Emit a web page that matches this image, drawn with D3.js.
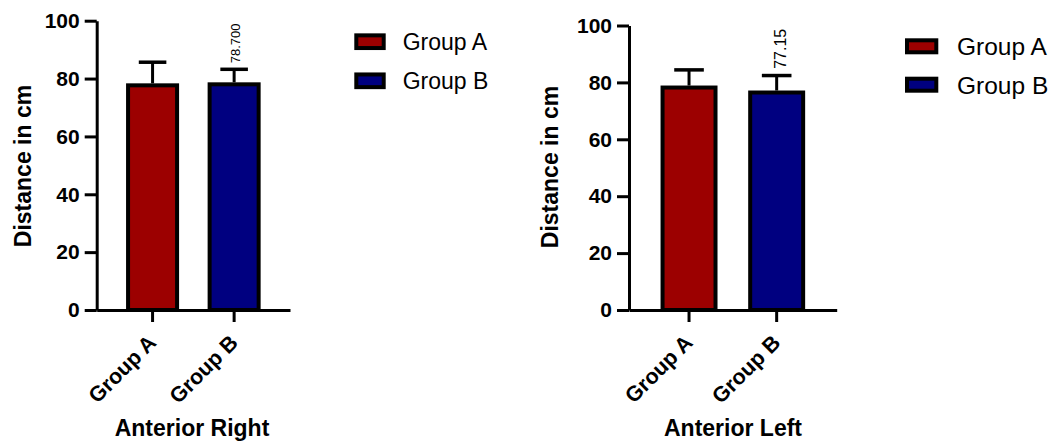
<!DOCTYPE html>
<html>
<head>
<meta charset="utf-8">
<script src="https://cdn.jsdelivr.net/npm/d3@7"></script>
<style>
  html, body { margin: 0; padding: 0; background: #fff; }
  svg { display: block; }
  text { font-family: Arial, "Liberation Sans", sans-serif; fill: #000; }
</style>
</head>
<body>
<svg id="chart" width="1054" height="443"></svg>
<script>
// Groups and summary statistics (mean ± SD) for each measurement
const groups = ["Group A", "Group B"];
const groupColors = ["#9c0000", "#000080"];

const rightMeans = [78.35, 78.7];
const rightSD = [7.3, 4.5];
const rightValueLabels = [null, "78.700"];

const leftMeans = [78.9, 77.15];
const leftSD = [5.5, 5.26];
const leftValueLabels = [null, "77.15"];

const yTicks = [0, 20, 40, 60, 80, 100];

const svg = d3.select("#chart");

function drawPanel(cfg) {
  const g = svg.append("g");

  const x = d3.scaleBand()
    .domain(groups)
    .range(cfg.xRange)
    .paddingInner(0.35)
    .paddingOuter(0.36);

  const y = d3.scaleLinear().domain([0, 100]).range(cfg.yRange);

  const sw = 4; // bar outline width, drawn inside the bar
  const data = groups.map((name, i) => ({
    name, mean: cfg.means[i], sd: cfg.sd[i], color: groupColors[i], label: cfg.labels[i]
  }));

  // error bars (upper only)
  const eb = g.append("g");
  data.forEach(d => {
    const cx = x(d.name) + x.bandwidth() / 2;
    const capW = x.bandwidth() * 0.52;
    eb.append("line")
      .attr("x1", cx).attr("x2", cx)
      .attr("y1", y(d.mean)).attr("y2", y(d.mean + d.sd))
      .attr("stroke", "#000").attr("stroke-width", 3);
    eb.append("line")
      .attr("x1", cx - capW / 2).attr("x2", cx + capW / 2)
      .attr("y1", y(d.mean + d.sd)).attr("y2", y(d.mean + d.sd))
      .attr("stroke", "#000").attr("stroke-width", 3.5);
  });

  // bars
  g.append("g").selectAll("rect")
    .data(data)
    .join("rect")
    .attr("x", d => x(d.name) + sw / 2)
    .attr("width", x.bandwidth() - sw)
    .attr("y", d => y(d.mean) + sw / 2)
    .attr("height", d => y(0) - y(d.mean) - sw / 2)
    .attr("fill", d => d.color)
    .attr("stroke", "#000")
    .attr("stroke-width", sw);

  // value labels above error bars
  g.append("g").selectAll("text")
    .data(data.filter(d => d.label))
    .join("text")
    .attr("transform", d => {
      const cx = x(d.name) + x.bandwidth() / 2 + cfg.labelDx;
      const ty = y(d.mean + d.sd) - cfg.labelGap;
      return `translate(${cx},${ty}) rotate(-90)`;
    })
    .attr("font-size", cfg.labelSize)
    .text(d => d.label);

  // y axis
  const yAxis = g.append("g")
    .attr("transform", `translate(${cfg.xRange[0]},0)`)
    .call(d3.axisLeft(y).tickValues(yTicks).tickSize(12).tickSizeOuter(0).tickPadding(5));
  yAxis.selectAll("path, line").attr("stroke", "#000").attr("stroke-width", 3);
  yAxis.selectAll("text")
    .attr("font-size", 21).attr("font-weight", "bold")
    .attr("font-family", "Arial, 'Liberation Sans', sans-serif")
    .attr("fill", "#000");

  // x axis
  const xAxis = g.append("g")
    .attr("transform", `translate(0,${y(0)})`)
    .call(d3.axisBottom(x).tickSize(12).tickSizeOuter(0).tickPadding(0));
  xAxis.selectAll("path, line").attr("stroke", "#000").attr("stroke-width", 3);
  xAxis.selectAll("text")
    .attr("font-size", 21.5).attr("font-weight", "bold")
    .attr("font-family", "Arial, 'Liberation Sans', sans-serif")
    .attr("fill", "#000")
    .attr("text-anchor", "end")
    .attr("dy", null)
    .attr("y", 0)
    .attr("transform", "translate(5,34) rotate(-45)");

  // axis titles
  g.append("text")
    .attr("transform", `translate(${cfg.yTitleX},${cfg.yTitleY}) rotate(-90)`)
    .attr("text-anchor", "middle")
    .attr("font-size", 23).attr("font-weight", "bold")
    .text("Distance in cm");

  g.append("text")
    .attr("x", cfg.xTitleX).attr("y", 436)
    .attr("text-anchor", "middle")
    .attr("font-size", 23).attr("font-weight", "bold")
    .text(cfg.title);

  // legend
  const lg = g.append("g");
  groups.forEach((name, i) => {
    const cy = cfg.legendY[i];
    lg.append("rect")
      .attr("x", cfg.legendX + 2).attr("y", cy - cfg.swatchH / 2 + 2)
      .attr("width", cfg.swatchW - 4).attr("height", cfg.swatchH - 4)
      .attr("fill", groupColors[i])
      .attr("stroke", "#000").attr("stroke-width", 4);
    lg.append("text")
      .attr("x", cfg.legendTextX).attr("y", cy + cfg.legendSize * 0.36)
      .attr("font-size", cfg.legendSize)
      .text(name);
  });
}

drawPanel({
  xRange: [96.7, 290], yRange: [310, 20.7],
  means: rightMeans, sd: rightSD, labels: rightValueLabels,
  labelDx: 6, labelGap: 6, labelSize: 13,
  yTitleX: 30.5, yTitleY: 166,
  xTitleX: 192, title: "Anterior Right",
  legendX: 354.3, legendY: [41.7, 80.8], swatchW: 31.4, swatchH: 16.7,
  legendTextX: 402.7, legendSize: 23
});

drawPanel({
  xRange: [629, 836.7], yRange: [310, 25.5],
  means: leftMeans, sd: leftSD, labels: leftValueLabels,
  labelDx: 9, labelGap: 6.7, labelSize: 16,
  yTitleX: 558.3, yTitleY: 167,
  xTitleX: 733, title: "Anterior Left",
  legendX: 905, legendY: [46.3, 84.7], swatchW: 33.3, swatchH: 16,
  legendTextX: 957, legendSize: 24.5
});
</script>
</body>
</html>
